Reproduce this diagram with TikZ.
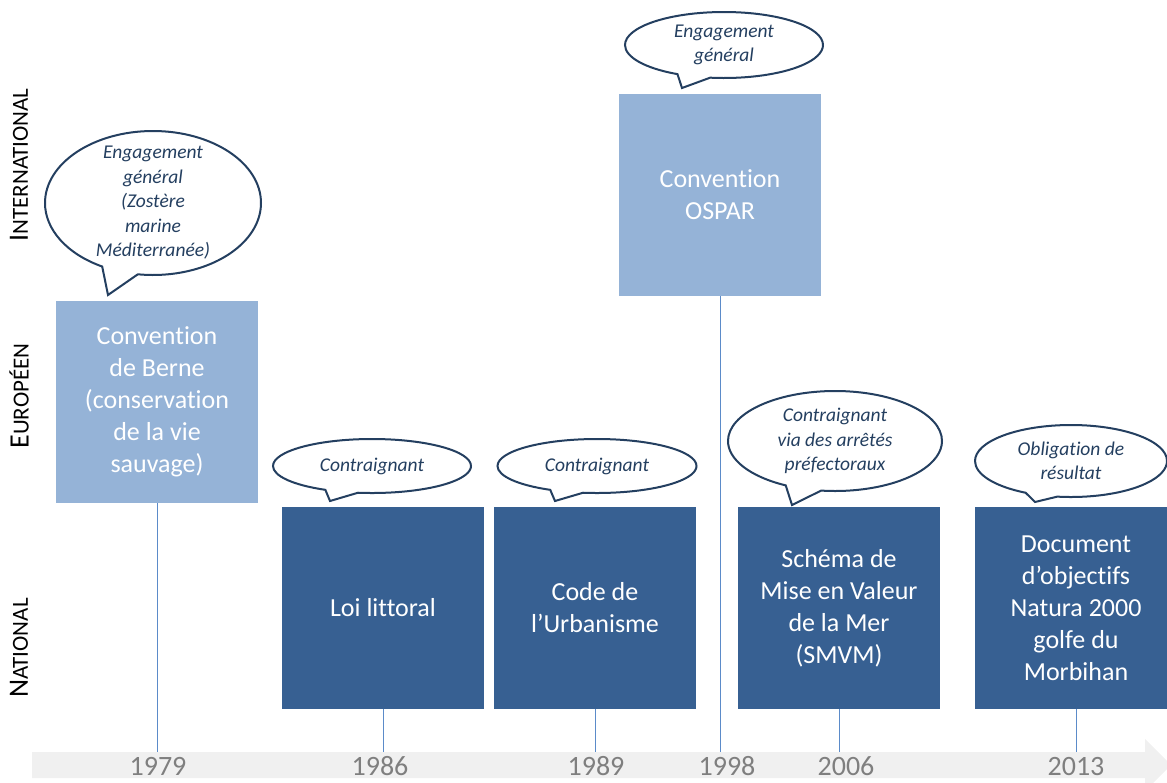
\documentclass[tikz,border=0pt]{standalone}
\usepackage{fontspec}
\setmainfont{Carlito}[Ligatures=NoCommon]
\usetikzlibrary{shapes.callouts,calc}

\definecolor{natblue}{HTML}{376092}
\definecolor{eurblue}{HTML}{95B3D7}
\definecolor{noteline}{HTML}{243F60}
\definecolor{tickblue}{HTML}{5B8BC9}
\definecolor{yeargray}{HTML}{7F7F7F}
\definecolor{axisgray}{HTML}{F0F0F0}

\newcommand{\lvlcap}[2]{{\fontsize{28}{28}\selectfont #1}#2}

\tikzset{
  act/.style={rectangle, minimum width=202, minimum height=202, inner sep=0pt, align=center,
    text=white, font=\fontsize{26}{32}\selectfont},
  natbox/.style={act, fill=natblue},
  eurbox/.style={act, fill=eurblue},
  note/.style={ellipse callout, draw=noteline, line width=2pt, fill=white, inner sep=0pt,
    callout pointer arc=20},
  notetext/.style={align=center, text=noteline, font=\fontsize{19.5}{24.5}\selectfont\itshape},
  level/.style={rotate=90, font=\fontsize{23}{23}\selectfont},
  year/.style={text=yeargray, font=\fontsize{28}{28}\selectfont},
  tick/.style={draw=tickblue, line width=0.8pt},
}

\begin{document}
\begin{tikzpicture}[x=1pt, y=-1pt]
  \useasboundingbox (0,0) rectangle (1167,782);
  \clip (0,0) rectangle (1167,782);

  % time axis
  \coordinate (axis) at (0,752);
  \fill[axisgray] (32,752) -- (1145,752) -- (1145,739) -- (1171,765)
    -- (1145,791) -- (1145,778) -- (32,778) -- cycle;

  % levels
  \node[level] (intl) at (19,165) {\lvlcap{I}{NTERNATIONAL}};
  \node[level] (euro) at (19,396) {\lvlcap{E}{UROPÉEN}};
  \node[level] (natl) at (19,648) {\lvlcap{N}{ATIONAL}};

  % texts
  \node[eurbox] (berne)  at (157,402)  {Convention\\de Berne\\(conservation\\de la vie\\sauvage)};
  \node[eurbox] (ospar)  at (720,195)  {Convention\\OSPAR};
  \node[natbox] (loi)    at (383,608)  {Loi littoral};
  \node[natbox] (code)   at (595,608)  {Code de\\l’Urbanisme};
  \node[natbox] (smvm)   at (839,608)  {Schéma de\\Mise en Valeur\\de la Mer\\(SMVM)};
  \node[natbox] (natura) at (1076,608) {Document\\d’objectifs\\Natura 2000\\golfe du\\Morbihan};

  % callouts
  \node[note, minimum width=216, minimum height=144, callout absolute pointer={(108,295)}]
    (bernenote) at (153,203) {};
  \node[notetext] (bernetext) at (bernenote) {Engagement\\général\\(Zostère\\marine\\Méditerranée)};
  \node[note, minimum width=198, minimum height=66, callout absolute pointer={(682,88)}]
    (osparnote) at (724,45) {};
  \node[notetext] (ospartext) at (osparnote) {Engagement\\général};
  \node[note, minimum width=198, minimum height=54, callout absolute pointer={(330,501)}]
    (loinote) at (372,466) {};
  \node[notetext] (loitext) at (loinote) {Contraignant};
  \node[note, minimum width=199, minimum height=54, callout absolute pointer={(555,501)}]
    (codenote) at (597,466) {};
  \node[notetext] (codetext) at (codenote) {Contraignant};
  \node[note, minimum width=214, minimum height=100, callout absolute pointer={(792,505)}]
    (smvmnote) at (835,441) {};
  \node[notetext] (smvmtext) at (smvmnote) {Contraignant\\via des arrêtés\\préfectoraux};
  \node[note, minimum width=192, minimum height=72, callout absolute pointer={(1035,502)}]
    (naturanote) at (1071,461) {};
  \node[notetext] (naturatext) at (naturanote) {Obligation de\\résultat};

  % drop lines to the axis
  \foreach \n in {berne,ospar,loi,code,smvm,natura}
    \draw[tick] (\n.south) -- (\n.south |- axis);

  % years
  \foreach \x/\yr in {158/1979,380/1986,596/1989,727/1998,846/2006,1076/2013}
    \node[year] (y\yr) at (\x,766) {\yr};
\end{tikzpicture}
\end{document}
